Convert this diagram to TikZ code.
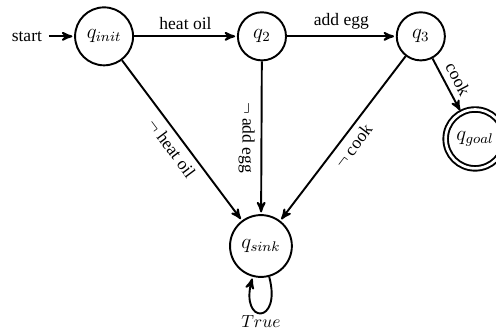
\documentclass[tikz,border=0pt]{standalone}
\usepackage{amsmath,amssymb}
\usepackage{fontspec}
\setmainfont{Liberation Serif}
\usepackage{tikz}
\usetikzlibrary{shapes.geometric,arrows,positioning}

\begin{document}
\begin{tikzpicture}[>=stealth', shorten >=1pt, auto, line width=1.1pt]
   \useasboundingbox (0,0) rectangle (9.96,6.73);
   \begin{scope}[every node/.style={circle,draw,line width=1.1pt,minimum size=27.5pt,inner sep=4.5pt,font=\large}]
    \node (qinit) at (2.09, 6.00) {$q_{init}$};
    \node (q2) at (5.26, 6.00) {$q_2$};
    \node (q3) at (8.45, 6.00) {$q_3$};
    \node (qgoal) at (9.54, 3.94) [double, double distance=1.5pt, inner sep=4pt] {$q_{goal}$};
    \node (qsink) at (5.24, 1.79) {$q_{sink}$};
   \end{scope}
   \node (start) at (0.54, 6.00) {start};
   \begin{scope}[every edge/.style={draw=black,line width=1.1pt,->}]
    \draw (start) edge (qinit);
    \draw (qinit) edge node{heat oil} (q2);
    \draw (q2) edge node{add egg} (q3);
    \draw (q3) edge node[sloped,above]{cook} (qgoal);
    \draw (qinit) edge node[sloped,below]{$\neg$\ heat oil} (qsink);
    \draw (q2) edge node[sloped,allow upside down,below]{$\neg$\ add egg} (qsink);
    \draw (q3) edge node[sloped,below]{$\neg$\ cook} (qsink);
    \draw (qsink) edge [loop below, min distance=10mm] node[inner sep=1pt]{$True$} (qsink);
   \end{scope}
\end{tikzpicture}
\end{document}
